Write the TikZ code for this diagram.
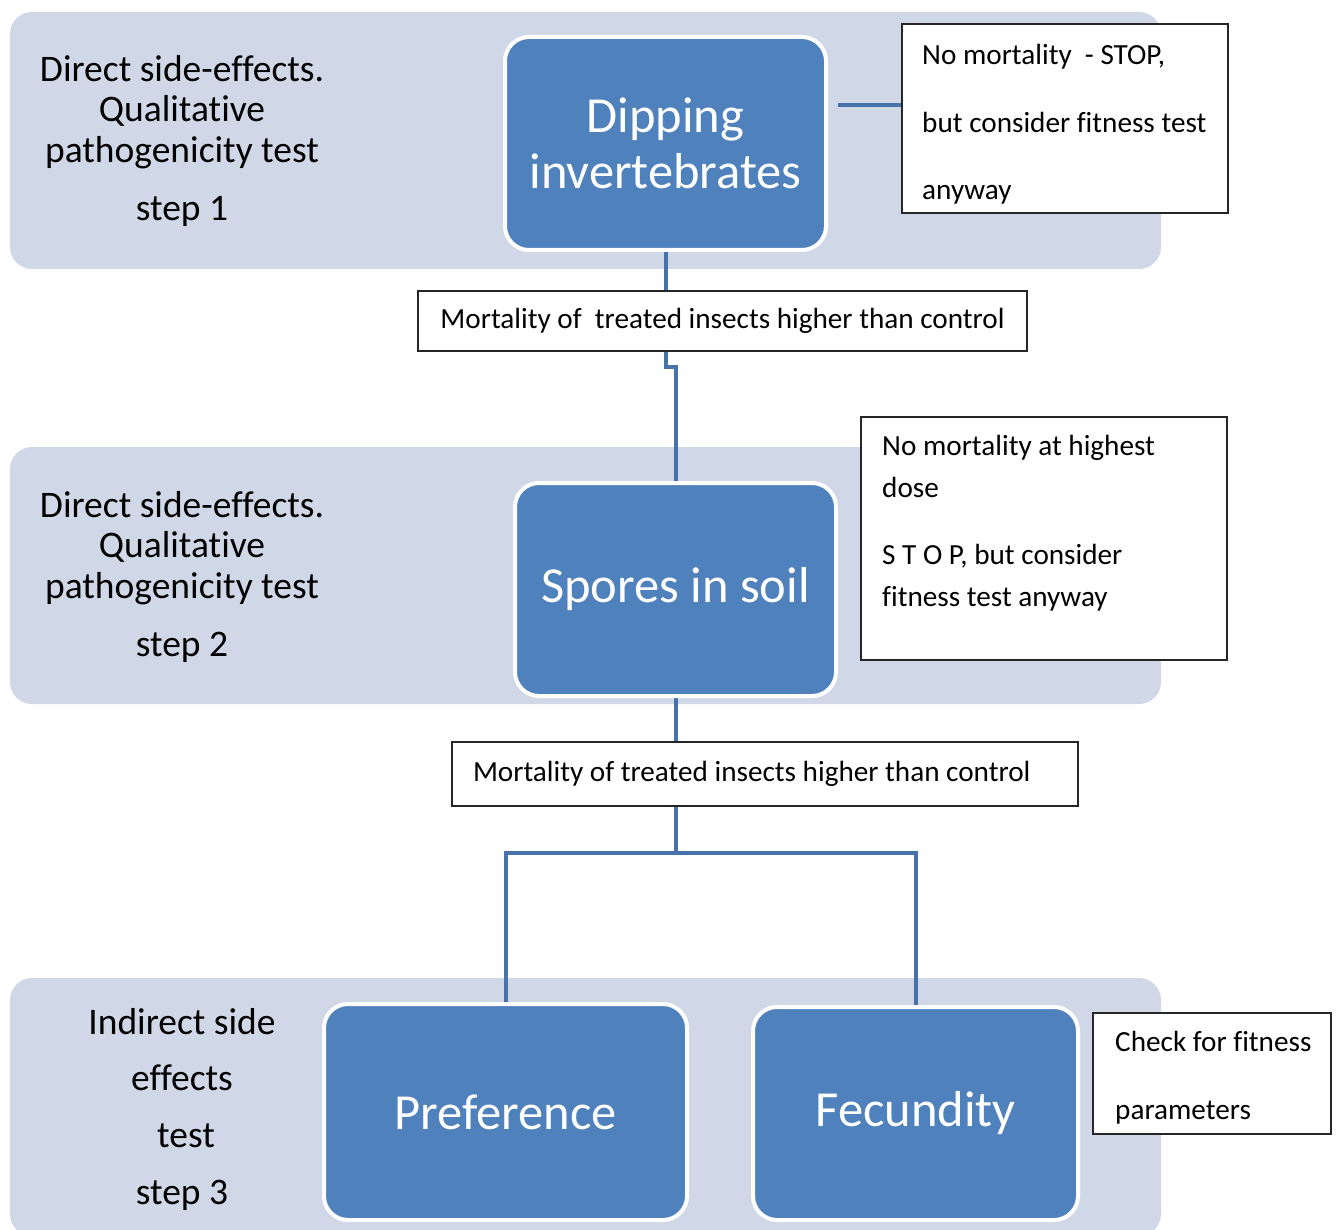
\documentclass[tikz,border=0pt]{standalone}
\usepackage{fontspec}
\setmainfont{Carlito}[Ligatures={NoCommon}]
\definecolor{panelc}{RGB}{208,216,232}
\definecolor{boxblue}{RGB}{79,129,189}
\definecolor{connc}{RGB}{72,114,170}
\newcommand{\bigf}{\fontsize{50.5}{56}\selectfont}
\newcommand{\lblf}{\fontsize{37.5}{44}\selectfont}
\newcommand{\smf}{\fontsize{29.2}{34}\selectfont}
\begin{document}
\begin{tikzpicture}[x=1pt,y=-1pt,
  panel/.style={fill=panelc, rounded corners=22pt},
  bluebox/.style={draw=white, line width=4pt, fill=boxblue, rounded corners=24pt,
    text=white, font=\bigf, align=center, inner sep=0pt},
  wbox/.style={draw=black!85, line width=1.3pt, fill=white, inner sep=0pt},
  conn/.style={draw=connc, line width=4pt},
  lbl/.style={anchor=base, font=\lblf, inner sep=0pt},
  sm/.style={anchor=base west, font=\smf, inner sep=0pt}]
\useasboundingbox (0,0) rectangle (1340,1230);
\fill[white] (0,0) rectangle (1340,1230);

% background panels
\fill[panel] (10,12) rectangle (1161,269);
\fill[panel] (10,447) rectangle (1161,704);
\fill[panel] (10,978) rectangle (1161,1236);

% left labels
\node[lbl] (a1) at (182,82) {Direct side-effects.};
\node[lbl] (a2) at (182,122) {Qualitative};
\node[lbl] (a3) at (182,163) {pathogenicity test};
\node[lbl] (a4) at (182,221) {step 1};
\node[lbl] (b1) at (182,517) {Direct side-effects.};
\node[lbl] (b2) at (182,557) {Qualitative};
\node[lbl] (b3) at (182,598) {pathogenicity test};
\node[lbl] (b4) at (182,656) {step 2};
\node[lbl] (c1) at (182,1034) {Indirect side};
\node[lbl] (c2) at (182,1090) {effects};
\node[lbl] (c3) at (186,1147) {test};
\node[lbl] (c4) at (182,1204) {step 3};

% white info boxes
\node[wbox, minimum width=326pt, minimum height=189pt] (nm1) at (1065,118.5) {};
\node[wbox, minimum width=609pt, minimum height=60pt, font=\smf] (mort1) at (722.5,321) {Mortality of\ \ treated insects higher than control};
\node[wbox, minimum height=64pt, text width=584pt, align=flush left, inner xsep=21pt, font=\smf] (mort2) at (765,774) {Mortality of treated insects higher than control};
\node[wbox, minimum width=366pt, minimum height=243pt] (nm2) at (1044,538.5) {};
\node[wbox, minimum width=238pt, minimum height=121pt] (chk) at (1212,1073.5) {};

\node[sm] (t1) at (922,65) {No mortality\ \ - STOP,};
\node[sm] (t2) at (922,133) {but consider fitness test};
\node[sm] (t3) at (922,200) {anyway};
\node[sm] (u1) at (882,455) {No mortality at highest};
\node[sm] (u2) at (882,497) {dose};
\node[sm] (u3) at (882,564) {S T O P, but consider};
\node[sm] (u4) at (882,606) {fitness test anyway};
\node[sm] (v1) at (1115,1051) {Check for fitness};
\node[sm] (v2) at (1115,1119) {parameters};

% blue box positions
\path (665.5,143.5) coordinate (pdip);
\path (675.5,589.5) coordinate (pspo);
\path (505.5,1112) coordinate (ppre);
\path (915.5,1113.5) coordinate (pfec);

% connectors (drawn before the boxes so the white borders cover their ends)
\coordinate (dipS) at (665.5,250);
\coordinate (spoN) at (675.5,483);
\coordinate (spoS) at (675.5,696);
\coordinate (preN) at (505.5,1005);
\coordinate (fecN) at (915.5,1007);
\coordinate (dipE) at (838,105);
\draw[conn] (dipE) -- (dipE -| nm1.west);
\draw[conn] (dipS) -- (dipS |- mort1.north);
\draw[conn] (dipS |- mort1.south) -- ++(0,15) -| (spoN);
\draw[conn] (spoS) -- (spoS |- mort2.north);
\draw[conn] (spoS |- mort2.south) -- ++(0,46) coordinate (jn);
\draw[conn] (jn) -| (preN);
\draw[conn] (jn) -| (fecN);

\node[bluebox, minimum width=321pt, minimum height=213pt] (dip) at (pdip) {Dipping\\invertebrates};
\node[bluebox, minimum width=321pt, minimum height=213pt] (spo) at (pspo) {Spores in soil};
\node[bluebox, minimum width=363pt, minimum height=216pt] (pre) at (ppre) {Preference};
\node[bluebox, minimum width=325pt, minimum height=213pt] (fec) at (pfec) {Fecundity};
\end{tikzpicture}
\end{document}
